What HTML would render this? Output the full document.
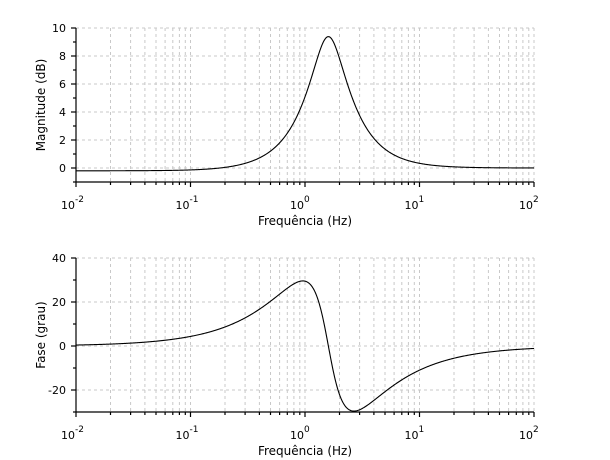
<!DOCTYPE html>
<html><head><meta charset="utf-8"><style>
body{margin:0;background:#fff}
svg{display:block;font-family:"DejaVu Sans","Liberation Sans",sans-serif}
</style></head><body>
<svg id="s" width="610" height="460" xmlns="http://www.w3.org/2000/svg"></svg>
<script>
const S=document.getElementById('s');let h='';
const X0=76,X1=534;
const fx=f=>X0+(Math.log10(f)+2)*(X1-X0)/4;
function H(f){const a=2.95,b=1.0,w2=2.56;
 const re=w2-f*f;
 const m=Math.sqrt((re*re+a*a*f*f)/(re*re+b*b*f*f));
 const p=(Math.atan2(a*f,re)-Math.atan2(b*f,re))*180/Math.PI;
 return [20*Math.log10(m)-0.2/(1+(f/0.4)**2),p];}
function panel(yT,yB,vmin,vmax,major,minor,title,idx){
 const fy=v=>yB-(v-vmin)*(yB-yT)/(vmax-vmin);
 let g='';
 for(let d=-2;d<2;d++)for(let k=1;k<=10;k++){const f=k*10**d;if(d==-2&&k==1)continue;const x=fx(f).toFixed(1);g+=`<line x1="${x}" y1="${yT}" x2="${x}" y2="${yB}"/>`;}
 for(let v=Math.ceil(vmin/major)*major;v<=vmax;v+=major){const y=fy(v).toFixed(1);g+=`<line x1="${X0}" y1="${y}" x2="${X1}" y2="${y}"/>`;}
 h+=`<g stroke="#c8c8c8" stroke-width="1" stroke-dasharray="3,3">${g}</g>`;
 let a=`<line x1="${X0}" y1="${yT}" x2="${X0}" y2="${yB}"/><line x1="${X0}" y1="${yB}" x2="${X1}" y2="${yB}"/>`;
 for(let v=vmin;v<=vmax;v+=minor){const y=fy(v).toFixed(1);const L=(Math.abs(v%major)<1e-9)?5:3;a+=`<line x1="${X0-L}" y1="${y}" x2="${X0}" y2="${y}"/>`;}
 for(let d=-2;d<=2;d++)for(let k=1;k<=9;k++){if(d==2&&k>1)break;const x=fx(k*10**d).toFixed(1);const L=k==1?5:3;a+=`<line x1="${x}" y1="${yB}" x2="${x}" y2="${yB+L}"/>`;}
 h+=`<g stroke="#000" stroke-width="1.2">${a}</g>`;
 for(let v=Math.ceil(vmin/major)*major;v<=vmax;v+=major){h+=`<text x="${X0-10}" y="${fy(v)+4}" font-size="11" text-anchor="end">${v}</text>`;}
 for(let d=-2;d<=2;d++){const x=fx(10**d);h+=`<text x="${x-1}" y="${yB+27}" font-size="11" text-anchor="end">10</text><text x="${x-1}" y="${yB+20}" font-size="9">${d}</text>`;}
 h+=`<text x="305" y="${yB+43}" font-size="12" text-anchor="middle">Frequência (Hz)</text>`;
 const cy=(yT+yB)/2;
 h+=`<text transform="translate(45,${cy}) rotate(-90)" font-size="12" text-anchor="middle">${title}</text>`;
 let p='';for(let i=0;i<=800;i++){const f=10**(-2+4*i/800);const v=H(f)[idx];p+=(i?'L':'M')+fx(f).toFixed(2)+' '+fy(v).toFixed(2);}
 h+=`<path d="${p}" fill="none" stroke="#000" stroke-width="1.1"/>`;
}
panel(28,182,-1,10,2,1,'Magnitude (dB)',0);
panel(258,412,-30,40,20,10,'Fase (grau)',1);
S.innerHTML=h;
</script>
</body></html>
